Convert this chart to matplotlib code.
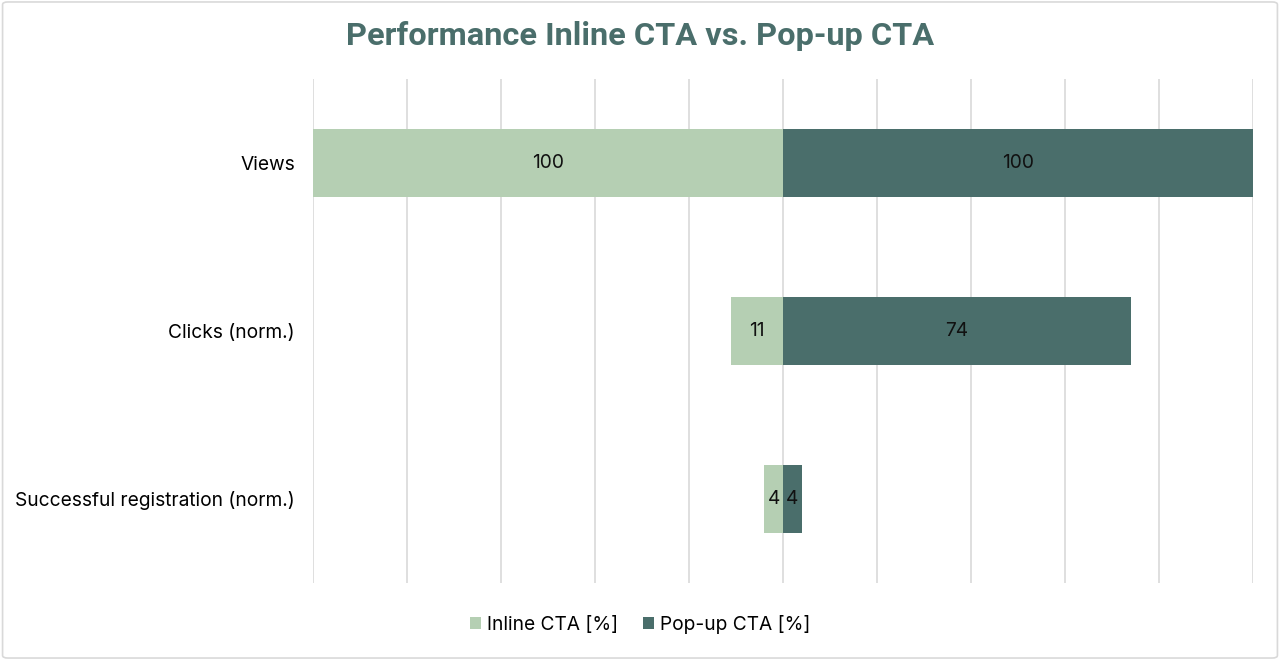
import numpy as np
import matplotlib.pyplot as plt
from matplotlib.patches import FancyBboxPatch

plt.rcParams['font.family'] = ['Inter', 'DejaVu Sans']

categories = ['Views', 'Clicks (norm.)', 'Successful registration (norm.)']
inline_cta = [100, 11, 4]
popup_cta = [100, 74, 4]

light = '#b5cfb3'
dark = '#4a6e6b'
fs = 13.8

fig = plt.figure(figsize=(12.8, 6.6), dpi=100)
ax = fig.add_axes([0.2445, 0.1167, 0.7344, 0.7636])

y = np.arange(len(categories))
h = 0.4
b1 = ax.barh(y, [-v for v in inline_cta], height=h, color=light, label='Inline CTA [%]')
b2 = ax.barh(y, popup_cta, height=h, color=dark, label='Pop-up CTA [%]')

for bars, vals in ((b1, inline_cta), (b2, popup_cta)):
    for bar, v in zip(bars, vals):
        cx = bar.get_x() + bar.get_width() / 2
        ax.text(cx, bar.get_y() + bar.get_height() / 2, str(v),
                ha='center', va='center', fontsize=fs, color='#111111')

ax.set_xlim(-100, 100)
ax.set_ylim(len(categories) - 0.5, -0.5)
ax.set_xticks(np.arange(-100, 101, 20))
ax.set_xticklabels([])
ax.tick_params(axis='x', length=0)
ax.tick_params(axis='y', length=0, pad=13, labelsize=fs)
ax.set_yticks(y)
ax.set_yticklabels(categories)
ax.grid(axis='x', color='#d9d9d9', lw=1.2)
ax.set_axisbelow(True)
for s in ax.spines.values():
    s.set_visible(False)

fig.text(0.5, 0.945, 'Performance Inline CTA vs. Pop-up CTA', ha='center', va='center',
         fontsize=23.4, fontweight='bold', color=dark, family=['Roboto', 'DejaVu Sans'])

fig.legend(handles=[b1, b2], loc='center', bbox_to_anchor=(0.5, 0.054), ncol=2,
           frameon=False, fontsize=fs, handlelength=0.6, handleheight=0.6,
           handletextpad=0.3, columnspacing=1.3)

fig.patches.append(FancyBboxPatch((0.002, 0.003), 0.996, 0.994, boxstyle='round,pad=0,rounding_size=0.004',
                                  transform=fig.transFigure, fill=False, ec='#d9d9d9', lw=1.2))

fig.savefig('out.png', dpi=100)
